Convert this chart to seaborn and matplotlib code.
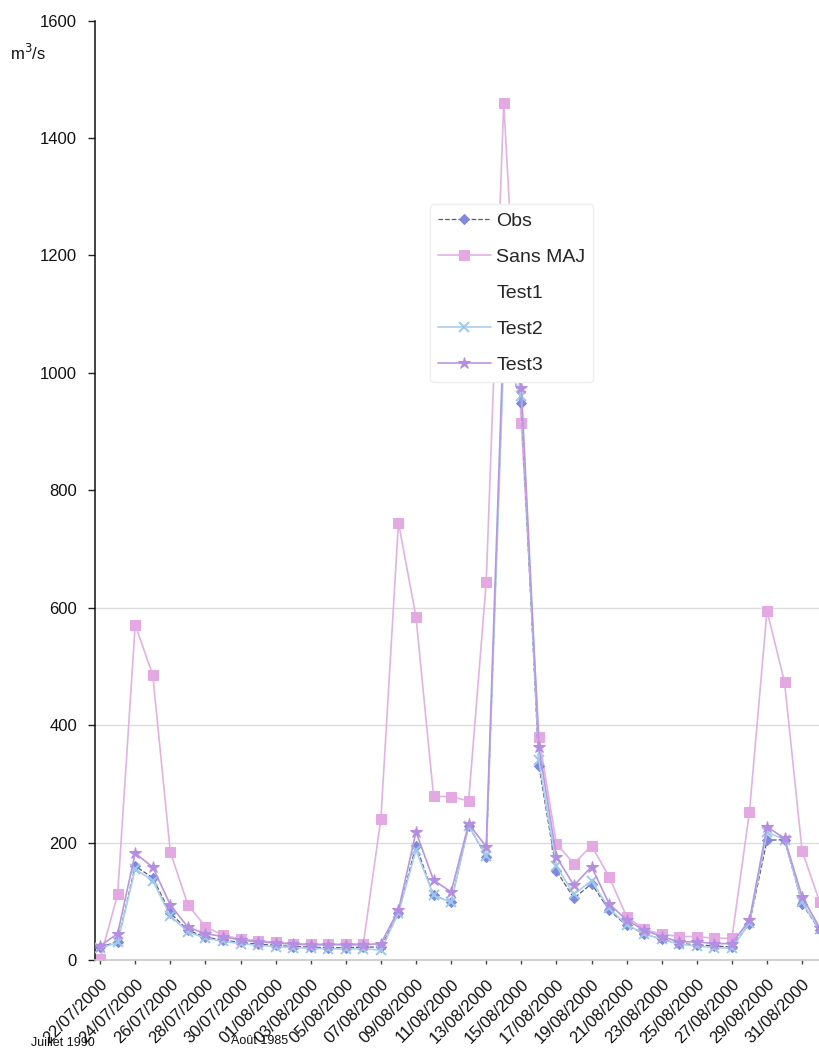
import numpy as np
import pandas as pd
import matplotlib
matplotlib.use("Agg")
import matplotlib.pyplot as plt
import seaborn as sns
from matplotlib.lines import Line2D

# Daily discharge, 22/07/2000 -> 01/09/2000 (m3/s)
dates = pd.date_range("2000-07-22", "2000-09-01", freq="D")

obs = [22, 31, 160, 140, 80, 51, 39, 34, 30, 27, 25, 23, 22, 21, 21, 22,
       22, 80, 195, 110, 99, 229, 176, 1050, 949, 331, 152, 105, 130, 85,
       59, 45, 35, 28, 26, 24, 22, 62, 204, 205, 96, 51]

sans_maj = [2, 112, 571, 485, 184, 94, 57, 42, 36, 33, 30, 28, 27, 27, 27, 28,
            241, 745, 584, 279, 278, 271, 643, 1460, 915, 380, 198, 164, 195, 142,
            74, 52, 44, 40, 40, 37, 37, 252, 595, 473, 186, 99]

test2 = [20, 30, 155, 135, 75, 48, 37, 32, 28, 25, 23, 21, 20, 19, 19, 19,
         17, 80, 187, 110, 98, 228, 178, 1030, 960, 340, 160, 112, 135, 88,
         60, 45, 35, 27, 24, 21, 20, 63, 218, 205, 98, 52]

test3 = [24, 45, 182, 158, 94, 56, 45, 40, 34, 31, 29, 27, 26, 26, 26, 26,
         28, 85, 218, 136, 116, 232, 193, 1080, 975, 363, 176, 127, 159, 96,
         68, 51, 40, 31, 31, 28, 28, 68, 227, 207, 108, 55]

series_names = ["Obs", "Sans MAJ", "Test1", "Test2", "Test3"]
y_ticks = [0, 200, 400, 600, 800, 1000, 1200, 1400, 1600]
grid_levels = [200, 400, 600]

sns.set_theme(style="white")
plt.rcParams["font.family"] = ["Liberation Sans", "DejaVu Sans"]

fig = plt.figure(figsize=(8.2, 10.58), dpi=100)
ax = fig.add_axes([0.116, 0.0926, 0.884, 0.888])

day = np.arange(len(dates))

for lvl in grid_levels:
    ax.axhline(lvl, color="#dcdcdc", linewidth=1.0, zorder=0)

sns.lineplot(x=day, y=obs, ax=ax, color="#5a5a72", linewidth=0.9,
             linestyle="--", marker="D", markersize=5.5,
             markerfacecolor="#7f88da", markeredgecolor="#7f88da",
             label="Obs", zorder=3)
sns.lineplot(x=day, y=sans_maj, ax=ax, color="#e2b2e2", linewidth=1.2,
             marker="s", markersize=7.5,
             markerfacecolor="#e4a8e2", markeredgecolor="#e4a8e2",
             label="Sans MAJ", zorder=2)
sns.lineplot(x=day, y=test2, ax=ax, color="#a9d0ee", linewidth=1.2,
             marker="x", markersize=6.5, markeredgewidth=1.4,
             markeredgecolor="#9cc8ec",
             label="Test2", zorder=4)
sns.lineplot(x=day, y=test3, ax=ax, color="#b896e2", linewidth=1.2,
             marker="*", markersize=9,
             markerfacecolor="#b48ee0", markeredgecolor="#b48ee0",
             label="Test3", zorder=5)

ax.set_ylim(0, 1600)
ax.set_xlim(-0.285, 41.02)
ax.set_yticks(y_ticks)
ax.set_yticklabels([str(v) for v in y_ticks], fontsize=12, color="#111111")

xt = day[::2]
ax.set_xticks(xt)
ax.set_xticklabels([dates[i].strftime("%d/%m/%Y") for i in xt],
                   rotation=45, ha="right", rotation_mode="anchor",
                   fontsize=12, color="#111111")
ax.tick_params(axis="y", length=5, width=1, color="#222222", pad=8, left=True)
ax.tick_params(axis="x", length=3, width=1, color="#444444", pad=9, bottom=True)
ax.set_xlabel("")
ax.set_ylabel("")

for side in ("top", "right"):
    ax.spines[side].set_visible(False)
ax.spines["left"].set_color("#111111")
ax.spines["left"].set_linewidth(1.1)
ax.spines["bottom"].set_color("#c8c8c8")
ax.spines["bottom"].set_linewidth(1.2)

# legend, with an empty entry for Test1
handles, labels = ax.get_legend_handles_labels()
ax.get_legend().remove()
test1_handle = Line2D([], [], linestyle="none", color="white")
lookup = dict(zip(labels, handles))
lookup["Test1"] = test1_handle
leg = fig.legend([lookup[n] for n in series_names], series_names,
                 loc="upper left", bbox_to_anchor=(0.513, 0.816),
                 fontsize=14, frameon=True, handlelength=2.7,
                 labelspacing=0.95, borderpad=0.4, handletextpad=0.3)
leg.get_frame().set_facecolor("white")
leg.get_frame().set_edgecolor("#eeeeee")
leg.get_frame().set_alpha(1.0)

fig.text(0.012, 0.943, "m$^3$/s", fontsize=12, color="#111111")
fig.text(0.038, 0.011, "Juillet 1990", fontsize=9, color="#111111")
fig.text(0.282, 0.013, "Août 1985", fontsize=9, color="#111111")

fig.savefig("out.png", dpi=100)
